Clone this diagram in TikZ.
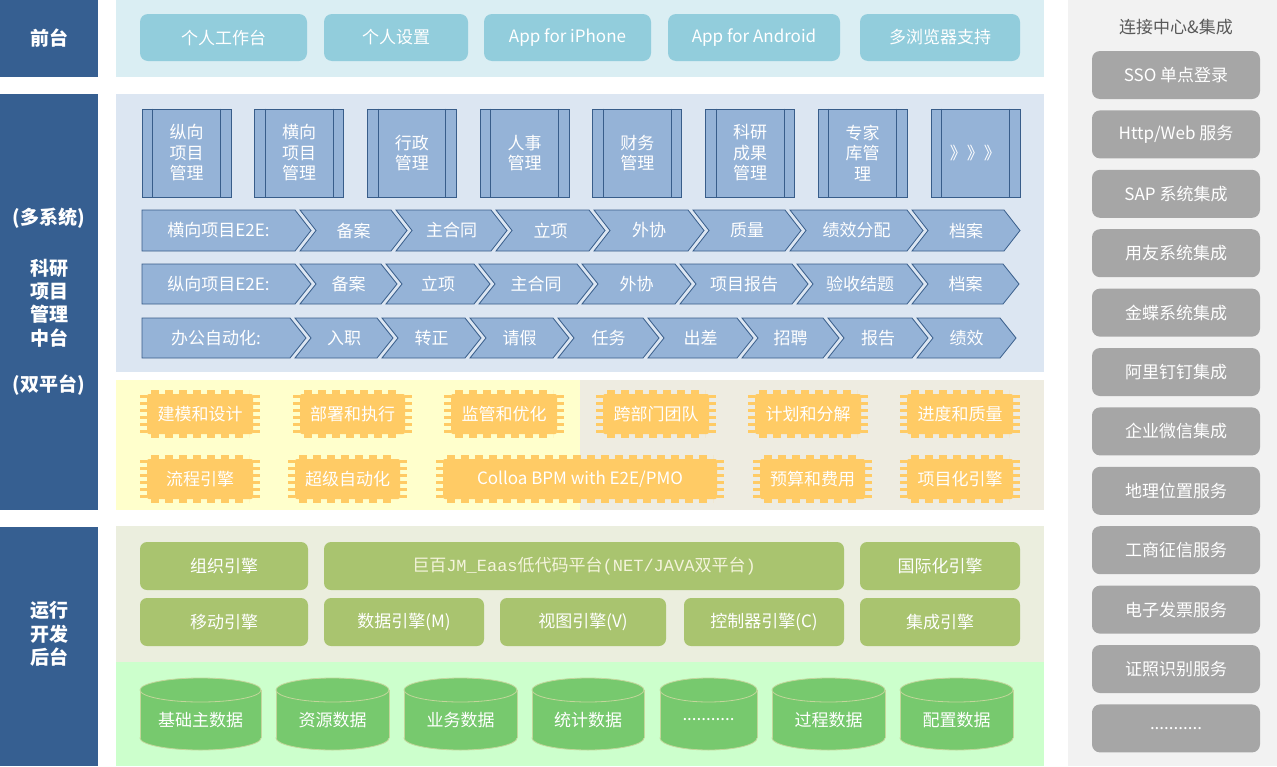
\documentclass[tikz,border=0pt]{standalone}
\usepackage{fontspec}
\setmainfont{Noto Sans CJK SC}
\newfontfamily\monofnt{Liberation Mono}
\newcommand{\dotrun}{...........}

\definecolor{sideblue}{HTML}{365F91}
\definecolor{bandcyan}{HTML}{DAEEF3}
\definecolor{btncyan}{HTML}{92CDDC}
\definecolor{bandblue}{HTML}{DCE6F2}
\definecolor{boxblue}{HTML}{95B3D7}
\definecolor{edgeblue}{HTML}{385D8A}
\definecolor{bandyellow}{HTML}{FFFFCC}
\definecolor{bandbeige}{HTML}{EEECE1}
\definecolor{chiporange}{HTML}{FFCB65}
\definecolor{bandolive}{HTML}{EBEEDE}
\definecolor{boxolive}{HTML}{A9C46F}
\definecolor{bandgreen}{HTML}{CCFFCC}
\definecolor{cylgreen}{HTML}{77C96E}
\definecolor{cyledge}{HTML}{C3D69B}
\definecolor{bandgray}{HTML}{F2F2F2}
\definecolor{boxgray}{HTML}{A6A6A6}
\definecolor{titlegray}{HTML}{595959}
\definecolor{platwhite}{HTML}{F4F4DC}

\begin{document}
\begin{tikzpicture}[x=1pt,y=-1pt,
    every node/.style={font=\fontsize{17}{20}\selectfont, text=white, inner sep=0pt},
    sidetext/.style={font=\fontsize{19}{23.3}\selectfont\bfseries, align=center},
    frontbtn/.style={fill=btncyan, rounded corners=8pt, minimum height=47pt},
    module/.style={fill=boxblue, draw=edgeblue, line width=0.8pt, align=center,
        minimum width=89pt, minimum height=88pt, font=\fontsize{17}{20.5}\selectfont},
    chev/.style={fill=boxblue, draw=edgeblue, line width=0.8pt},
    engine/.style={fill=boxolive, rounded corners=7pt, minimum height=48pt},
    cylbody/.style={fill=cylgreen, draw=cyledge, line width=0.8pt},
    linkbtn/.style={fill=boxgray, rounded corners=8pt, minimum width=168pt, minimum height=48pt}]

    % Hintergrund und Baender
    \fill[white] (0,0) rectangle (1277,766);
    \fill[bandgray] (1068,0) rectangle (1277,766);
    \fill[sideblue] (0,0) rectangle (98,77);
    \fill[sideblue] (0,94) rectangle (98,510);
    \fill[sideblue] (0,527) rectangle (98,766);
    \fill[bandcyan] (116,0) rectangle (1044,77);
    \fill[bandblue] (116,94) rectangle (1044,372);
    \fill[bandyellow] (116,380) rectangle (580,510);
    \fill[bandbeige] (580,380) rectangle (1044,510);
    \fill[bandolive] (116,526) rectangle (1044,662);
    \fill[bandgreen] (116,662) rectangle (1044,766);

    % Linke Spalte
    \node[sidetext] (side1) at (49,38) {前台};
    \node[sidetext] (side2) at (49,218) {(多系统)};
    \node[sidetext] (side3) at (49,303) {科研\\项目\\管理\\中台};
    \node[sidetext] (side4) at (49,385) {(双平台)};
    \node[sidetext] (side5) at (49,634) {运行\\开发\\后台};

    % Frontend
    \foreach \a/\b/\t [count=\i] in {140/307/个人工作台, 324/468/个人设置,
            484/651/App for iPhone, 668/840/App for Android, 860/1020/多浏览器支持}
        \node[frontbtn, minimum width={\b-\a}] (front\i) at ({(\a+\b)/2},37.5) {\t};

    % Systeme
    \foreach \t [count=\i from 0] in {纵向\\项目\\管理, 横向\\项目\\管理, 行政\\管理, 人事\\管理,
            财务\\管理, 科研\\成果\\管理, 专家\\库管\\理, 》》》} {
        \node[module] (mod\i) at (186.5+112.7*\i,153) {\t};
        \draw[edgeblue, line width=0.8pt]
            ([xshift=11pt]mod\i.north west) -- ([xshift=11pt]mod\i.south west)
            ([xshift=-11pt]mod\i.north east) -- ([xshift=-11pt]mod\i.south east);
    }

    % Prozessketten
    \foreach \l/\r/\t [count=\i] in {142/295/横向项目E2E:, 300/391/备案, 396/491/主合同, 496/589/立项,
            594/688/外协, 693/785/质量, 790/907/绩效分配, 912/1004/档案} {
        \ifnum\i=1
            \draw[chev] (\l,210) -- (\r,210) -- (\r+16,230.5) -- (\r,251) -- (\l,251) -- cycle;
            \node (hx\i) at ({(\l+\r)/2},230.5) {\t};
        \else
            \draw[chev] (\l,210) -- (\r,210) -- (\r+16,230.5) -- (\r,251) -- (\l,251) -- (\l+16,230.5) -- cycle;
            \node (hx\i) at ({(\l+\r+16)/2},230.5) {\t};
        \fi
    }
    \foreach \l/\r/\t [count=\i] in {142/295/纵向项目E2E:, 300/381/备案, 386/474/立项, 479/577/主合同,
            582/675/外协, 680/792/项目报告, 797/907/验收结题, 912/1003/档案} {
        \ifnum\i=1
            \draw[chev] (\l,264) -- (\r,264) -- (\r+16,284) -- (\r,304) -- (\l,304) -- cycle;
            \node (zx\i) at ({(\l+\r)/2},284) {\t};
        \else
            \draw[chev] (\l,264) -- (\r,264) -- (\r+16,284) -- (\r,304) -- (\l,304) -- (\l+16,284) -- cycle;
            \node (zx\i) at ({(\l+\r+16)/2},284) {\t};
        \fi
    }
    \foreach \l/\r/\t [count=\i] in {142/290/办公自动化:, 295/377/入职, 382/465/转正, 470/553/请假,
            558/643/任务, 648/737/出差, 742/823/招聘, 828/912/报告, 917/1000/绩效} {
        \ifnum\i=1
            \draw[chev] (\l,318) -- (\r,318) -- (\r+16,338) -- (\r,358) -- (\l,358) -- cycle;
            \node (oa\i) at ({(\l+\r)/2},338) {\t};
        \else
            \draw[chev] (\l,318) -- (\r,318) -- (\r+16,338) -- (\r,358) -- (\l,358) -- (\l+16,338) -- cycle;
            \node (oa\i) at ({(\l+\r+16)/2},338) {\t};
        \fi
    }

    % BPM Bausteine
    \foreach \a/\b/\y/\t [count=\i] in {140/260/390/建模和设计, 293/412/390/部署和执行, 444/564/390/监管和优化,
            596/716/390/跨部门团队, 748/868/390/计划和分解, 900/1020/390/进度和质量,
            140/260/455/流程引擎, 288/407/455/超级自动化, 436/724/455/{Colloa BPM with E2E/PMO},
            753/872/455/预算和费用, 900/1020/455/项目化引擎} {
        \fill[chiporange, rounded corners=2pt] (\a+7,\y+4) rectangle (\b-7,\y+44);
        \draw[chiporange, line width=4pt, dash pattern=on 8pt off 6pt]
            (\a+11,\y+2) -- (\b-11,\y+2) (\a+11,\y+46) -- (\b-11,\y+46);
        \draw[chiporange, line width=7pt, dash pattern=on 3pt off 4pt]
            (\a+3.5,\y+5) -- (\a+3.5,\y+45) (\b-3.5,\y+5) -- (\b-3.5,\y+45);
        \node (chip\i) at ({(\a+\b)/2},\y+24) {\t};
    }

    % Engines
    \node[engine, minimum width=520pt, text=platwhite] (plat) at (584,566)
        {巨百{\monofnt JM\_Eaas}低代码平台{\monofnt(NET/JAVA}双平台{\monofnt)}};
    \foreach \a/\b/\y/\t [count=\i] in {140/308/542/组织引擎, 860/1020/542/国际化引擎,
            140/308/598/移动引擎, 324/484/598/数据引擎(M), 500/666/598/视图引擎(V),
            684/844/598/控制器引擎(C), 860/1020/598/集成引擎}
        \node[engine, minimum width={\b-\a}] (eng\i) at ({(\a+\b)/2},\y+24) {\t};

    % Datenbanken
    \foreach \a/\b/\t [count=\i] in {140/261/基础主数据, 276/389/资源数据, 404/517/业务数据,
            532/644/统计数据, 660/757/\dotrun, 772/885/过程数据, 900/1013/配置数据} {
        \filldraw[cylbody] ({(\a+\b)/2},738) ellipse [x radius={(\b-\a)/2}, y radius=12];
        \fill[cylgreen] (\a,690) rectangle (\b,738);
        \draw[cyledge, line width=0.8pt] (\a,690) -- (\a,738) (\b,690) -- (\b,738);
        \filldraw[cylbody] ({(\a+\b)/2},690) ellipse [x radius={(\b-\a)/2}, y radius=12];
        \node (db\i) at ({(\a+\b)/2},720) {\t};
    }

    % Verbindungen
    \node[text=titlegray] (linktitle) at (1176,27) {连接中心\&集成};
    \foreach \t [count=\i from 0] in {SSO 单点登录, Http/Web 服务, SAP 系统集成, 用友系统集成,
            金蝶系统集成, 阿里钉钉集成, 企业微信集成, 地理位置服务, 工商征信服务,
            电子发票服务, 证照识别服务, \dotrun}
        \node[linkbtn] (link\i) at (1176,75+59.4*\i) {\t};
\end{tikzpicture}
\end{document}
